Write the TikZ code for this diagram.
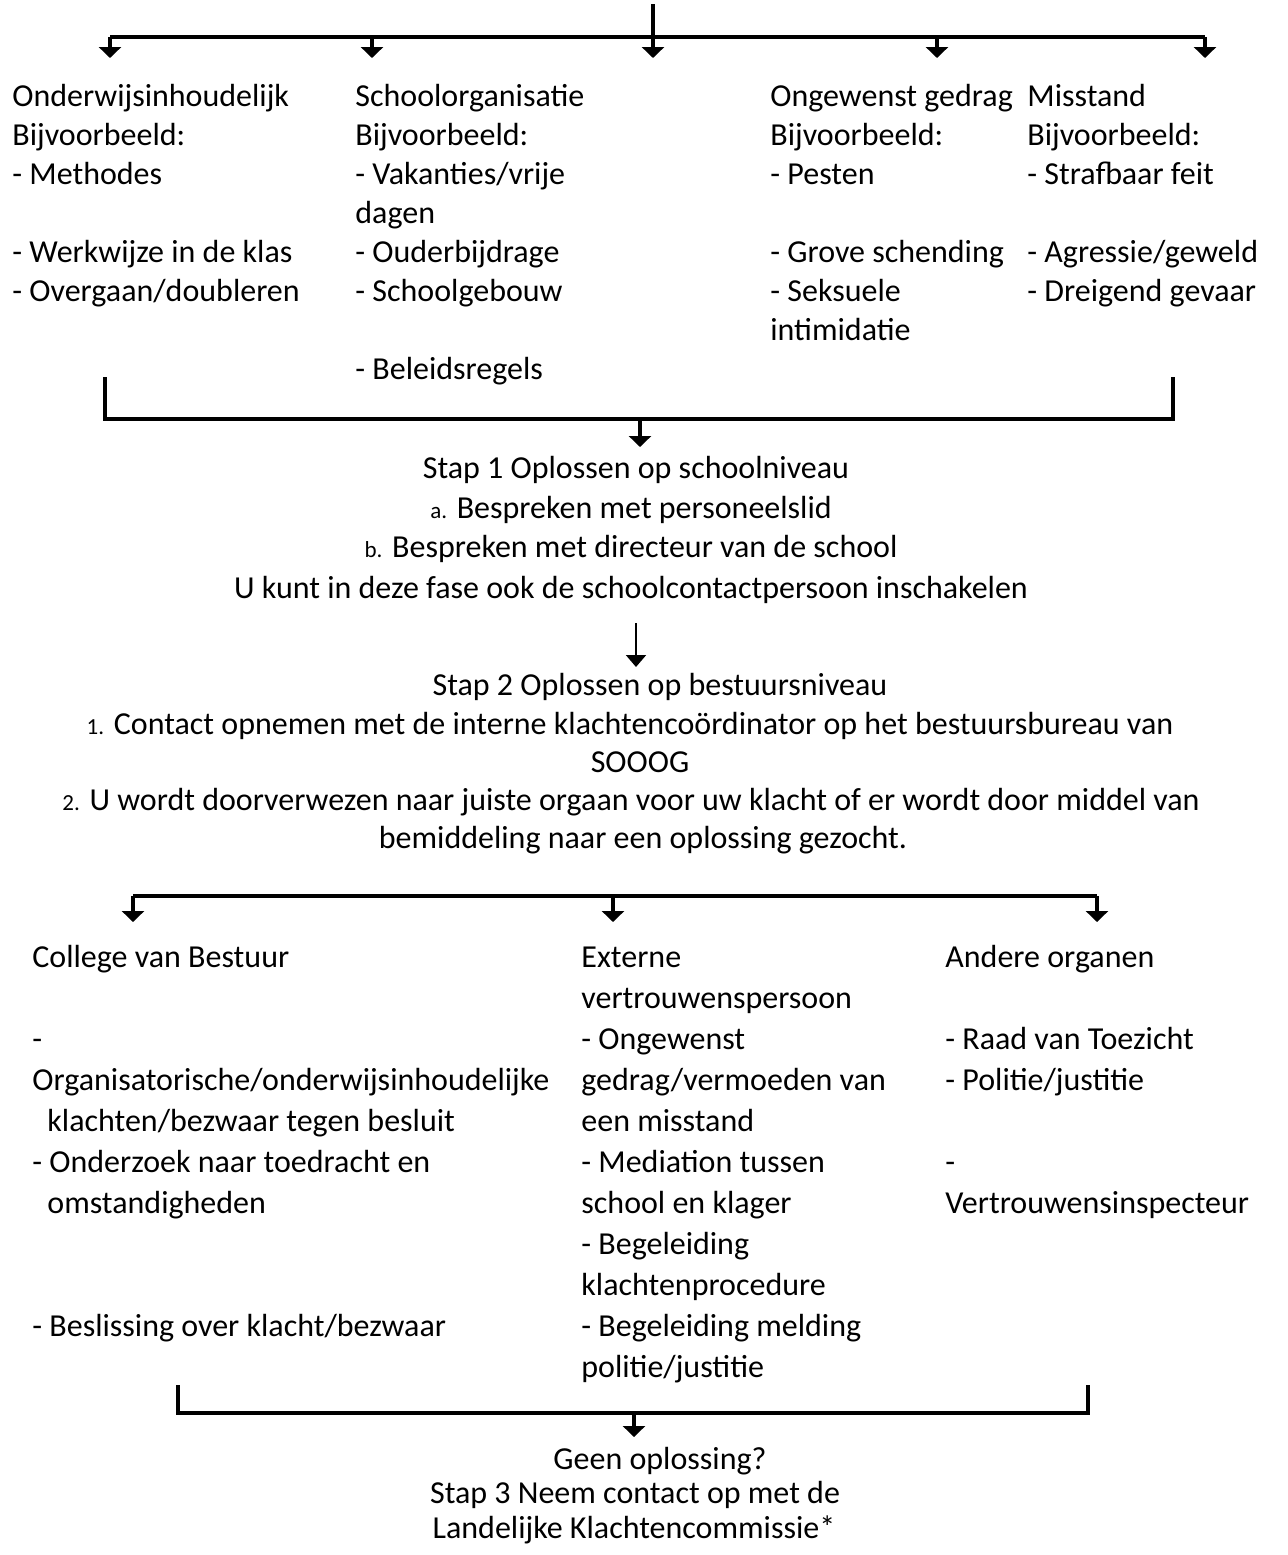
\documentclass[tikz,border=0pt]{standalone}
\usepackage{fontspec}
\setmainfont{Carlito}
\usetikzlibrary{arrows.meta}

\tikzset{
    txt/.style={inner sep=0pt, font=\fontsize{16}{19.5}\selectfont},
    col/.style={txt, anchor=north west, align=left},
    wcol/.style={col, font=\fontsize{16}{20.5}\selectfont},
    stepline/.style={txt, anchor=base},
    bar/.style={line width=1.7pt},
    flow/.style={bar, -{Triangle[width=11pt,length=5.5pt]}},
    thinflow/.style={line width=1pt, -{Triangle[width=10pt,length=6pt]}},
}
\newcommand{\lbl}[1]{{\fontsize{11.5}{12}\selectfont #1}}
\newcommand{\topline}{\rule{0pt}{13pt}}

\begin{document}
\begin{tikzpicture}[x=0.5pt,y=-0.5pt]
    \useasboundingbox (0,0) rectangle (1287,1555);

    % soorten klachten
    \node[col] (onderwijs) at (12,80) {\topline Onderwijsinhoudelijk\\ Bijvoorbeeld:\\ - Methodes\\ ~\\ - Werkwijze in de klas\\ - Overgaan/doubleren};
    \node[col] (organisatie) at (355,80) {\topline Schoolorganisatie\\ Bijvoorbeeld:\\ - Vakanties/vrije\\ dagen\\ - Ouderbijdrage\\ - Schoolgebouw\\ ~\\ - Beleidsregels};
    \node[col] (gedrag) at (770,80) {\topline Ongewenst gedrag\\ Bijvoorbeeld:\\ - Pesten\\ ~\\ - Grove schending\\ - Seksuele\\ intimidatie};
    \node[col] (misstand) at (1027,80) {\topline Misstand\\ Bijvoorbeeld:\\ - Strafbaar feit\\ ~\\ - Agressie/geweld\\ - Dreigend gevaar};

    \coordinate (top) at (653,4);
    \coordinate (f1) at (110,37);
    \coordinate (f2) at (372,37);
    \coordinate (f3) at (653,37);
    \coordinate (f4) at (937,37);
    \coordinate (f5) at (1205,37);
    \draw[bar] (f1) -- (f5);
    \draw[flow] (top) -- ([yshift=-10.5pt]f3);
    \draw[flow] (f1) -- ([yshift=-10.5pt]f1);
    \draw[flow] (f2) -- ([yshift=-10.5pt]f2);
    \draw[flow] (f4) -- ([yshift=-10.5pt]f4);
    \draw[flow] (f5) -- ([yshift=-10.5pt]f5);

    % stap 1
    \coordinate (k1l) at (105,377);
    \coordinate (k1m) at (640,419);
    \coordinate (k1r) at (1173,377);
    \draw[bar] (k1l) -- (k1l |- k1m) -- (k1r |- k1m) -- (k1r);
    \draw[flow] (k1m) -- ([yshift=-14pt]k1m);

    \node[stepline] (stap1) at (636,478) {Stap 1 Oplossen op schoolniveau};
    \node[stepline] (stap1a) at (631,518) {\lbl{a.} Bespreken met personeelslid};
    \node[stepline] (stap1b) at (631,557) {\lbl{b.} Bespreken met directeur van de school};
    \node[stepline] (stap1c) at (631,598) {U kunt in deze fase ook de schoolcontactpersoon inschakelen};

    \coordinate (p1) at (636,623);
    \coordinate (p2) at (636,667);
    \draw[thinflow] (p1) -- (p2);

    % stap 2
    \node[stepline] (stap2) at (660,695) {Stap 2 Oplossen op bestuursniveau};
    \node[stepline] (stap2a) at (630,734) {\lbl{1.} Contact opnemen met de interne klachtencoördinator op het bestuursbureau van};
    \node[stepline] (stap2b) at (640,772) {SOOOG};
    \node[stepline] (stap2c) at (631,810) {\lbl{2.} U wordt doorverwezen naar juiste orgaan voor uw klacht of er wordt door middel van};
    \node[stepline] (stap2d) at (643,848) {bemiddeling naar een oplossing gezocht.};

    \coordinate (g1) at (133,896);
    \coordinate (g2) at (613,896);
    \coordinate (g3) at (1097,896);
    \draw[bar] (g1) -- (g3);
    \draw[flow] (g1) -- ([yshift=-13pt]g1);
    \draw[flow] (g2) -- ([yshift=-13pt]g2);
    \draw[flow] (g3) -- ([yshift=-13pt]g3);

    \node[wcol] (college) at (32,941) {\topline College van Bestuur\\ ~\\ -\\ Organisatorische/onderwijsinhoudelijke\\ \hspace*{7.5pt}klachten/bezwaar tegen besluit\\ - Onderzoek naar toedracht en\\ \hspace*{7.5pt}omstandigheden\\ ~\\ ~\\ - Beslissing over klacht/bezwaar};
    \node[wcol] (extern) at (581,941) {\topline Externe\\ vertrouwenspersoon\\ - Ongewenst\\ gedrag/vermoeden van\\ een misstand\\ - Mediation tussen\\ school en klager\\ - Begeleiding\\ klachtenprocedure\\ - Begeleiding melding\\ politie/justitie};
    \node[wcol] (andere) at (945,941) {\topline Andere organen\\ ~\\ - Raad van Toezicht\\ - Politie/justitie\\ ~\\ -\\ Vertrouwensinspecteur};

    % stap 3
    \coordinate (k2l) at (178,1385);
    \coordinate (k2m) at (634,1413);
    \coordinate (k2r) at (1088,1385);
    \draw[bar] (k2l) -- (k2l |- k2m) -- (k2r |- k2m) -- (k2r);
    \draw[flow] (k2m) -- ([yshift=-12pt]k2m);

    \node[stepline] (geen) at (660,1469) {Geen oplossing?};
    \node[stepline] (stap3) at (635,1503) {Stap 3 Neem contact op met de};
    \node[stepline] (landelijk) at (634,1538) {Landelijke Klachtencommissie*};
\end{tikzpicture}
\end{document}
